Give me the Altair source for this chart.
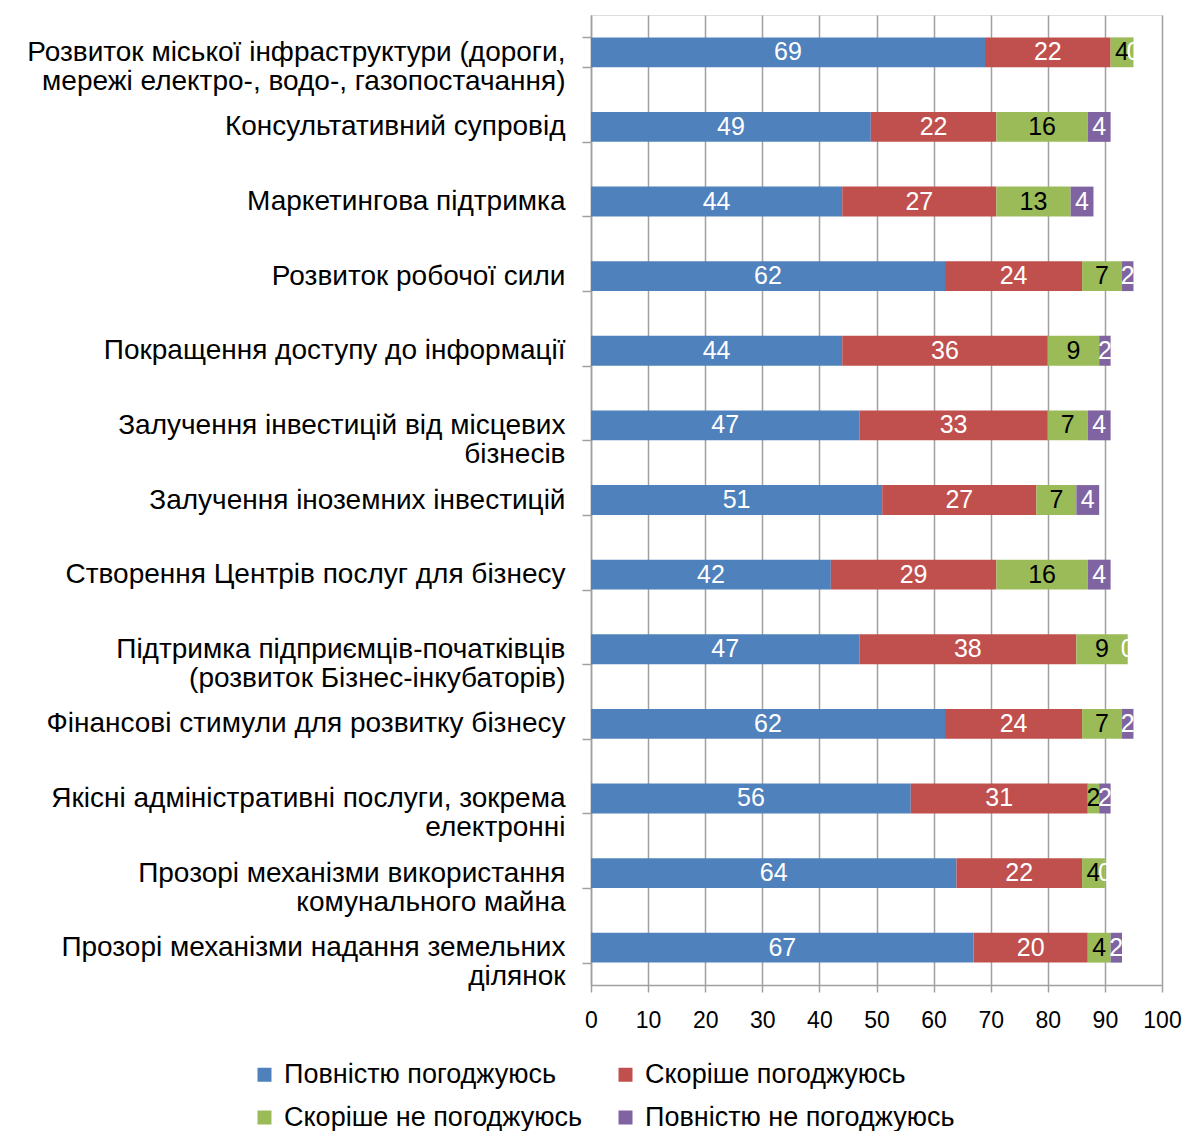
import altair as alt
import pandas as pd

categories = [
    ["Розвиток міської інфраструктури (дороги,", "мережі електро-, водо-, газопостачання)"],
    ["Консультативний супровід"],
    ["Маркетингова підтримка"],
    ["Розвиток робочої сили"],
    ["Покращення доступу до інформації"],
    ["Залучення інвестицій  від місцевих", "бізнесів"],
    ["Залучення  іноземних інвестицій"],
    ["Створення Центрів послуг для бізнесу"],
    ["Підтримка підприємців-початківців", "(розвиток Бізнес-інкубаторів)"],
    ["Фінансові стимули для розвитку бізнесу"],
    ["Якісні адміністративні послуги, зокрема", "електронні"],
    ["Прозорі механізми використання", "комунального майна"],
    ["Прозорі механізми надання  земельних", "ділянок"],
]
series = ["Повністю погоджуюсь", "Скоріше погоджуюсь", "Скоріше не погоджуюсь", "Повністю не погоджуюсь"]
fully_agree = [69, 49, 44, 62, 44, 47, 51, 42, 47, 62, 56, 64, 67]
rather_agree = [22, 22, 27, 24, 36, 33, 27, 29, 38, 24, 31, 22, 20]
rather_disagree = [4, 16, 13, 7, 9, 7, 7, 16, 9, 7, 2, 4, 4]
fully_disagree = [0, 4, 4, 2, 2, 4, 4, 4, 0, 2, 2, 0, 2]
colors = ["#4F81BD", "#C0504D", "#9BBB59", "#8064A2"]

values = [fully_agree, rather_agree, rather_disagree, fully_disagree]
cat_keys = ["\n".join(c) for c in categories]
rows = []
for si, s in enumerate(series):
    for ci, key in enumerate(cat_keys):
        rows.append({"cat": key, "series": s, "order": si, "value": values[si][ci]})
df = pd.DataFrame(rows)

FONT = "Liberation Sans"

base = alt.Chart(df).transform_stack(
    stack="value", as_=["x0", "x1"], groupby=["cat"], sort=[alt.SortField("order")]
).transform_calculate(mid="(datum.x0 + datum.x1) / 2")

y_enc = alt.Y(
    "cat:N",
    sort=cat_keys,
    title=None,
    scale=alt.Scale(paddingInner=0.6, paddingOuter=0.3),
    axis=alt.Axis(
        labelExpr="split(datum.label, '\\n')",
        labelFont=FONT, labelFontSize=28, labelColor="#000000",
        labelLineHeight=29, labelPadding=17, labelLimit=700,
        tickBand="extent", tickSize=9, tickColor="#A0A0A0", tickWidth=1.5,
        domainColor="#A0A0A0", domainWidth=1.5, grid=False,
    ),
)

bars = base.mark_bar().encode(
    x=alt.X(
        "x0:Q",
        title=None,
        scale=alt.Scale(domain=[0, 100], nice=False),
        axis=alt.Axis(
            values=list(range(0, 101, 10)), labelFont=FONT, labelFontSize=23,
            labelColor="#000000", labelPadding=17, labelFlush=False, labelOverlap=False,
            tickSize=7, tickColor="#A0A0A0",
            tickWidth=1.5, domainColor="#A0A0A0", domainWidth=1.5,
            grid=True, gridColor="#A0A0A0", gridWidth=1.5,
        ),
    ),
    x2="x1:Q",
    y=y_enc,
    color=alt.Color(
        "series:N",
        sort=series,
        scale=alt.Scale(domain=series, range=colors),
        legend=alt.Legend(
            title=None, orient="none", legendX=-340, legendY=1046, columns=2,
            direction="horizontal", symbolType="square", symbolSize=196,
            symbolStrokeWidth=0, labelFont=FONT, labelFontSize=27, labelColor="#000000",
            labelOffset=6, columnPadding=29, rowPadding=15, labelLimit=500,
        ),
    ),
    order=alt.Order("order:Q"),
)

labels = base.mark_text(font=FONT, fontSize=25, baseline="middle", align="center").encode(
    x="mid:Q",
    y=alt.Y("cat:N", sort=cat_keys),
    text="value:Q",
    color=alt.condition(
        alt.datum.series == "Скоріше не погоджуюсь", alt.value("#000000"), alt.value("#FFFFFF")
    ),
)

chart = alt.layer(bars, labels).properties(
    width=571, height=970,
    padding={"left": 18, "top": -7, "right": 0, "bottom": 0},
).configure_view(stroke=None).configure(background="#FFFFFF")

chart.save("out.html", embed_options={"renderer": "svg", "actions": False})
